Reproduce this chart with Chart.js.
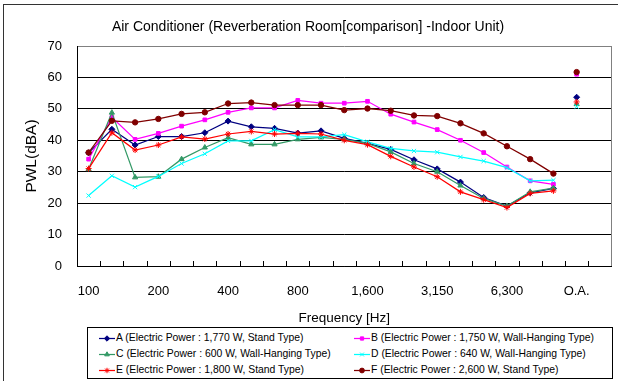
<!DOCTYPE html>
<html>
<head>
<meta charset="utf-8">
<script src="https://cdn.jsdelivr.net/npm/chart.js@4.4.1/dist/chart.umd.min.js"></script>
<style>
html, body { margin: 0; padding: 0; background: #fff; }
#wrap { position: relative; width: 618px; height: 381px; overflow: hidden; font-family: "Liberation Sans", Arial, sans-serif; }
#frame { position: absolute; left: 3px; top: 4px; width: 700px; height: 500px; border-left: 1px solid #333; border-top: 1px solid #333; }
#c { position: absolute; left: 0; top: 0; }
#legend { position: absolute; left: 87px; top: 327px; width: 524px; height: 50px; border: 1px solid #000; background: #fff; }
.mk { position: absolute; }
.lbl { position: absolute; font-size: 10.4px; line-height: 14px; white-space: nowrap; color: #000; }
</style>
</head>
<body>
<div id="wrap">
  <div id="frame"></div>
  <canvas id="c" width="618" height="381"></canvas>
  <div id="legend"></div>
</div>
<script>
// 1/3 octave bands, overall value at O.A., one empty slot at the end
const categories = ['100', '125', '160', '200', '250', '315', '400', '500', '630', '800',
  '1,000', '1,250', '1,600', '2,000', '2,500', '3,150', '4,000', '5,000', '6,300', '8,000',
  '10,000', 'O.A.', ''];
const OA_INDEX = 21;
const yTicks = [0, 10, 20, 30, 40, 50, 60, 70];

const seriesA = [36.0, 43.5, 38.5, 41.2, 41.2, 42.4, 46.1, 44.3, 43.8, 42.3, 43.0, 40.6, 39.0, 37.1, 33.8, 30.9, 26.7, 21.8, 19.1, 23.3, 24.7, 53.7];
const seriesB = [34.0, 47.3, 40.3, 42.2, 44.5, 46.5, 48.9, 50.3, 50.3, 52.7, 51.8, 51.8, 52.4, 48.3, 45.8, 43.4, 40.0, 36.1, 31.5, 27.1, 26.0, 61.0];
const seriesC = [30.8, 48.8, 28.2, 28.4, 34.0, 37.7, 40.8, 38.7, 38.7, 40.3, 40.9, 40.3, 39.0, 36.3, 32.6, 30.0, 25.6, 21.5, 19.1, 23.6, 24.8, 51.5];
const seriesD = [22.4, 28.7, 25.1, 28.5, 32.6, 35.7, 39.8, 39.8, 43.4, 41.1, 41.1, 41.8, 39.5, 37.4, 36.6, 36.2, 34.7, 33.4, 31.3, 27.1, 27.3, 50.7];
const seriesE = [31.0, 42.4, 36.9, 38.5, 41.1, 40.4, 42.0, 42.8, 42.0, 42.2, 42.0, 40.0, 38.6, 34.9, 31.5, 28.4, 23.6, 21.1, 18.6, 23.1, 23.9, 52.2];
const seriesF = [36.1, 46.2, 45.7, 46.8, 48.4, 48.9, 51.7, 52.0, 51.2, 51.2, 51.2, 49.6, 50.1, 49.4, 47.9, 47.7, 45.4, 42.2, 38.1, 34.0, 29.4, 61.7];

const seriesNames = [
  'A (Electric Power : 1,770 W, Stand Type)',
  'B (Electric Power : 1,750 W, Wall-Hanging Type)',
  'C (Electric Power : 600 W, Wall-Hanging Type)',
  'D (Electric Power : 640 W, Wall-Hanging Type)',
  'E (Electric Power : 1,800 W, Stand Type)',
  'F (Electric Power : 2,600 W, Stand Type)'
];
const seriesData = [seriesA, seriesB, seriesC, seriesD, seriesE, seriesF];
const colors = ['#000080', '#FF00FF', '#339966', '#00FFFF', '#FF0000', '#800000'];
const markers = ['rectRot', 'rect', 'triangle', 'crossRot', 'star', 'circle'];
const markerSize = [3, 2.6, 3, 3, 3, 2.7];

const FONT = '"Liberation Sans", Arial, sans-serif';

const datasets = seriesData.map((d, i) => ({
  label: seriesNames[i],
  data: d,
  borderColor: colors[i],
  backgroundColor: colors[i],
  borderWidth: 1.25,
  pointStyle: markers[i],
  pointRadius: markerSize[i],
  pointBorderWidth: 1,
  pointBorderColor: colors[i],
  pointBackgroundColor: colors[i],
  fill: false,
  tension: 0,
  order: seriesData.length - i,
  // O.A. is a separate value, not joined to the band line
  segment: { borderColor: ctx => ctx.p1DataIndex === OA_INDEX ? 'rgba(0,0,0,0)' : colors[i] }
}));

// right border of the plot and inside tick marks on the category axis
const plotExtras = {
  id: 'plotExtras',
  afterDraw(chart) {
    const { ctx, chartArea: a, scales: { x } } = chart;
    ctx.save();
    ctx.lineWidth = 1;
    ctx.strokeStyle = '#808080';
    ctx.beginPath();
    const rx = Math.round(a.right) - 0.5;
    ctx.moveTo(rx, a.top);
    ctx.lineTo(rx, a.bottom);
    ctx.stroke();
    ctx.strokeStyle = '#000';
    ctx.beginPath();
    for (let i = 1; i < categories.length; i++) {
      const px = Math.round((x.getPixelForValue(i - 1) + x.getPixelForValue(i)) / 2) + 0.5;
      ctx.moveTo(px, a.bottom);
      ctx.lineTo(px, a.bottom - 5);
    }
    ctx.stroke();
    ctx.restore();
  }
};

const chart = new Chart(document.getElementById('c'), {
  type: 'line',
  data: { labels: categories, datasets: datasets },
  options: {
    responsive: false,
    animation: false,
    devicePixelRatio: 1,
    layout: { padding: { left: 0, right: 2, top: 0, bottom: 45 } },
    plugins: {
      legend: { display: false },
      tooltip: { enabled: false },
      title: {
        display: true,
        text: 'Air Conditioner (Reverberation Room[comparison] -Indoor Unit)',
        color: '#000',
        font: { family: FONT, size: 14, weight: 'normal' },
        padding: { top: 19, bottom: 10.2 }
      }
    },
    scales: {
      x: {
        type: 'category',
        offset: true,
        grid: { display: true, drawOnChartArea: false, drawTicks: false },
        border: { display: true, color: '#000', width: 1 },
        ticks: {
          autoSkip: false,
          maxRotation: 0,
          minRotation: 0,
          padding: 18,
          color: '#000',
          font: { family: FONT, size: 13 },
          callback: (v, i) => (i % 3 === 0 ? categories[i] : '')
        },
        title: {
          display: true,
          text: 'Frequency [Hz]',
          color: '#000',
          font: { family: FONT, size: 13.5 },
          padding: { top: 0, bottom: 9.5 }
        },
        afterFit: s => { s.height = 70; }
      },
      y: {
        min: yTicks[0],
        max: yTicks[yTicks.length - 1],
        afterBuildTicks: s => { s.ticks = yTicks.map(v => ({ value: v })); },
        grid: {
          drawTicks: false,
          lineWidth: 1,
          color: ctx => (ctx.tick && ctx.tick.value === 70 ? '#808080' : '#000')
        },
        border: { display: true, color: '#000', width: 1 },
        ticks: {
          padding: 15,
          color: '#000',
          font: { family: FONT, size: 13 }
        },
        title: {
          display: true,
          text: 'PWL(dBA)',
          color: '#000',
          font: { family: FONT, size: 15.5 },
          padding: { top: 22 }
        },
        afterFit: s => { s.width = 77; }
      }
    }
  },
  plugins: [plotExtras]
});

// legend box in two columns, markers drawn with Chart.js point helper
const legend = document.getElementById('legend');
const colX = [10, 265];
const rowY = [10, 26, 42];
seriesNames.forEach((name, i) => {
  const cx = colX[i % 2];
  const cy = rowY[Math.floor(i / 2)];
  const cv = document.createElement('canvas');
  cv.width = 18; cv.height = 12;
  cv.className = 'mk';
  cv.style.left = cx + 'px';
  cv.style.top = (cy - 6) + 'px';
  const g = cv.getContext('2d');
  g.strokeStyle = colors[i];
  g.fillStyle = colors[i];
  g.lineWidth = 1.25;
  g.beginPath();
  g.moveTo(1, 6.5);
  g.lineTo(17, 6.5);
  g.stroke();
  g.lineWidth = 1;
  Chart.helpers.drawPoint(g, { pointStyle: markers[i], radius: markerSize[i] - 0.3, rotation: 0, borderWidth: 1 }, 9, 6.5);
  legend.appendChild(cv);
  const t = document.createElement('div');
  t.className = 'lbl';
  t.textContent = name;
  t.style.left = (cx + 18) + 'px';
  t.style.top = (cy - 7) + 'px';
  legend.appendChild(t);
});
</script>
</body>
</html>
